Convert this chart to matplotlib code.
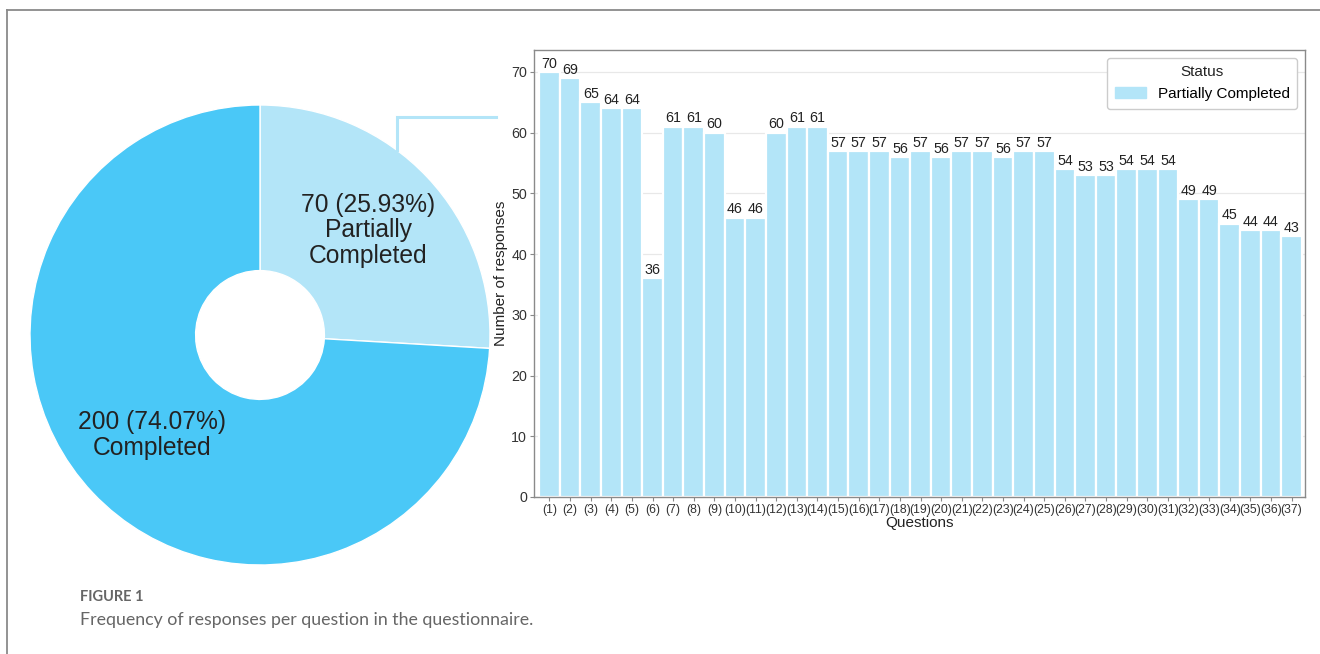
import matplotlib
matplotlib.use("Agg")
from matplotlib import pyplot as plt
from matplotlib.lines import Line2D
from matplotlib.patches import Patch

plt.rcParams["font.family"] = ["Liberation Sans", "DejaVu Sans"]

# Overall completion status
status_labels = ["Partially Completed", "Completed"]
status_counts = [70, 200]
status_colors = ["#B3E5F8", "#4AC8F7"]

# Responses per question (partially completed questionnaires)
questions = ["(%d)" % i for i in range(1, 38)]
responses = [70, 69, 65, 64, 64, 36, 61, 61, 60, 46, 46, 60, 61, 61, 57, 57,
             57, 56, 57, 56, 57, 57, 56, 57, 57, 54, 53, 53, 54, 54, 54, 49,
             49, 45, 44, 44, 43]

fig = plt.figure(figsize=(13.2, 6.54), dpi=100)

# frame around the figure panel
frame_color = "#8a8a8a"
fig.add_artist(Line2D([7 / 1320, 1.0], [1 - 9.5 / 654] * 2,
                      transform=fig.transFigure, color=frame_color, lw=1.3))
fig.add_artist(Line2D([7 / 1320] * 2, [0, 1 - 9.5 / 654],
                      transform=fig.transFigure, color=frame_color, lw=1.3))

# donut chart
ax_pie = fig.add_axes([30 / 1320, 89 / 654, 460 / 1320, 460 / 654])
total = sum(status_counts)
ax_pie.pie(status_counts, colors=status_colors, startangle=90,
           counterclock=False, radius=1.0,
           wedgeprops=dict(width=0.72, edgecolor="white", linewidth=1))
ax_pie.set_xlim(-1, 1)
ax_pie.set_ylim(-1, 1)
ax_pie.set_aspect("equal")
ax_pie.axis("off")

label_pos = [(0.47, 0.455), (-0.47, -0.435)]
for lab, cnt, (px, py) in zip(status_labels, status_counts, label_pos):
    name = lab.replace(" ", "\n")
    ax_pie.text(px, py, "%d (%.2f%%)\n%s" % (cnt, cnt / total * 100, name),
                ha="center", va="center", fontsize=17.7, color="#222222",
                linespacing=1.08)

# connector from the partial slice to the bar chart
fig.add_artist(Line2D([397 / 1320, 397 / 1320, 496 / 1320],
                      [1 - 150 / 654, 1 - 117 / 654, 1 - 117 / 654],
                      transform=fig.transFigure, color=status_colors[0],
                      lw=2.2, solid_joinstyle="miter"))

# bar chart
ax = fig.add_axes([534 / 1320, 157 / 654, 771 / 1320, 447 / 654])
x = list(range(len(questions)))
bars = ax.bar(x, responses, width=1.0, color=status_colors[0],
              edgecolor="white", linewidth=1.6, zorder=2)
for xi, v in zip(x, responses):
    ax.text(xi, v + 0.2, str(v), ha="center", va="bottom",
            fontsize=10.3, color="#222222")

ax.set_xlim(-0.75, 36.65)
ax.set_ylim(0, 73.6)
ax.set_xticks(x)
ax.set_xticklabels(questions, fontsize=8.8)
ax.set_yticks(range(0, 80, 10))
ax.tick_params(axis="y", labelsize=10.3, colors="#333333", length=3,
               color="#888888", pad=2)
ax.tick_params(axis="x", colors="#333333", length=3, color="#888888", pad=2)
ax.grid(axis="y", color="#e8e8e8", lw=0.9, zorder=0)
for sp in ax.spines.values():
    sp.set_color("#8a8a8a")
    sp.set_linewidth(1.0)
ax.set_xlabel("Questions", fontsize=11, color="#222222", labelpad=0)
ax.set_ylabel("Number of responses", fontsize=11, color="#222222",
              labelpad=2)

leg = ax.legend(handles=[Patch(color=status_colors[0], label=status_labels[0])],
                title="Status", loc="upper right", fontsize=11,
                title_fontsize=11, fancybox=True, framealpha=1,
                edgecolor="#cccccc", borderpad=0.5, handlelength=2.0)
leg.get_title().set_color("#222222")

# caption
fig.text(80 / 1320, 1 - 597 / 654, "FIGURE 1", fontsize=10.5,
         color="#666666", family=["Lato", "DejaVu Sans"], weight="bold",
         va="center")
fig.text(80 / 1320, 1 - 620 / 654,
         "Frequency of responses per question in the questionnaire.",
         fontsize=12.8, color="#666666", family=["Lato", "DejaVu Sans"],
         va="center")

fig.savefig("out.png", dpi=100)
